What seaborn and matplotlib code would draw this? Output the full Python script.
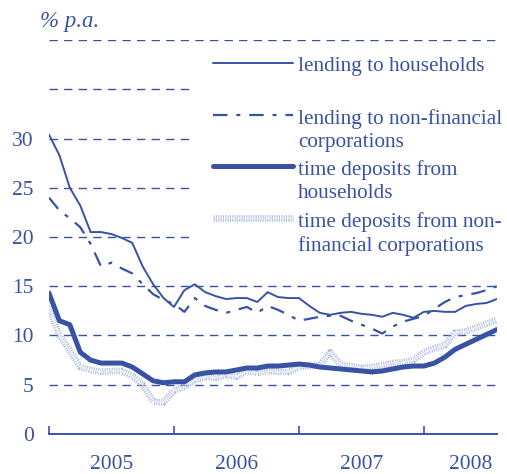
import numpy as np
import pandas as pd
import seaborn as sns
import matplotlib.pyplot as plt
import matplotlib.patheffects as pe
from matplotlib.lines import Line2D
from matplotlib.patches import Rectangle

# monthly interest rates, Jan 2005 - Aug 2008 (% p.a.)
months = pd.date_range("2005-01-01", periods=44, freq="MS")

lending_households = [30.4, 28.3, 25.0, 23.2, 20.5, 20.5, 20.3, 19.9, 19.4, 17.0,
                      15.2, 13.8, 12.9, 14.6, 15.2, 14.4, 14.0, 13.7, 13.8, 13.8,
                      13.4, 14.4, 13.9, 13.8, 13.8, 13.0, 12.3, 12.1, 12.3, 12.4,
                      12.2, 12.1, 11.9, 12.3, 12.1, 11.8, 12.4, 12.5, 12.4, 12.4,
                      13.0, 13.2, 13.3, 13.7]
lending_nfc = [24.0, 22.7, 21.9, 21.0, 19.3, 17.0, 17.4, 16.8, 16.3, 15.2,
               14.2, 13.6, 13.2, 12.4, 13.8, 13.0, 12.6, 12.3, 12.6, 12.9,
               12.3, 13.0, 12.6, 12.1, 11.5, 11.7, 11.9, 12.0, 12.0, 11.5,
               11.1, 10.7, 10.2, 10.9, 11.4, 11.7, 12.0, 12.7, 13.4, 13.9,
               14.1, 14.3, 14.6, 15.0]
deposits_households = [14.3, 11.5, 11.1, 8.3, 7.5, 7.2, 7.2, 7.2, 6.8, 6.1,
                       5.4, 5.2, 5.3, 5.3, 6.0, 6.2, 6.3, 6.3, 6.5, 6.7,
                       6.7, 6.9, 6.9, 7.0, 7.1, 7.0, 6.8, 6.7, 6.6, 6.5,
                       6.4, 6.3, 6.4, 6.6, 6.8, 6.9, 6.9, 7.2, 7.8, 8.6,
                       9.1, 9.6, 10.1, 10.6]
deposits_nfc = [12.9, 10.0, 8.5, 6.8, 6.5, 6.3, 6.4, 6.4, 5.9, 5.0,
                3.3, 3.2, 4.4, 4.8, 5.5, 5.8, 5.7, 6.0, 5.8, 6.4,
                6.2, 6.4, 6.3, 6.3, 6.8, 6.9, 7.0, 8.3, 7.0, 6.9,
                6.7, 6.8, 7.0, 7.2, 7.3, 7.5, 8.3, 8.7, 9.0, 10.3,
                10.4, 10.8, 11.2, 11.6]

labels = ["lending to households",
          "lending to non-financial\ncorporations",
          "time deposits from\nhouseholds",
          "time deposits from non-\nfinancial corporations"]
years = ["2005", "2006", "2007", "2008"]
yticks = [0, 5, 10, 15, 20, 25, 30]

blue = "#3953a4"
light_fx = [pe.Stroke(linewidth=4.8, foreground="#b4bfdf"), pe.Normal()]
styles = [dict(color=blue, lw=1.4, linestyle="-"),
          dict(color=blue, lw=1.6, linestyle=(0, (6.5, 4, 1.8, 4))),
          dict(color=blue, lw=3.6, linestyle="-", solid_capstyle="round"),
          dict(color="#e8ecf6", lw=1.4, linestyle=(0, (0.6, 0.6)), path_effects=light_fx)]

df = pd.DataFrame({"t": np.arange(len(months)),
                   "lh": lending_households, "ln": lending_nfc,
                   "dh": deposits_households, "dn": deposits_nfc})

sns.set_theme(style="white")
plt.rcParams["font.family"] = ["Liberation Serif", "DejaVu Serif"]

fig = plt.figure(figsize=(5.07, 4.74), dpi=100)
ax = fig.add_axes([0.0966, 0.0844, 0.8834, 0.8312])

for v in [5, 10, 15, 20, 25, 30, 35, 40]:
    ax.axhline(v, color=blue, lw=1.0, ls=(0, (6, 4.5)), zorder=1)

sns.lineplot(data=df, x="t", y="dn", ax=ax, zorder=3, **styles[3])
sns.lineplot(data=df, x="t", y="dh", ax=ax, zorder=4, **styles[2])
sns.lineplot(data=df, x="t", y="ln", ax=ax, zorder=4, **styles[1])
sns.lineplot(data=df, x="t", y="lh", ax=ax, zorder=5, **styles[0])

ax.set_xlim(0, len(months) - 1)
ax.set_ylim(0, 40)
ax.set_xlabel("")
ax.set_ylabel("")

# x axis: year boundaries as ticks, year names centred between them
ax.set_xticks([0, 12, 24, 36])
ax.set_xticklabels([])
ax.set_xticks([6, 18, 30, 40.5], minor=True)
ax.set_xticklabels(years, minor=True)
ax.tick_params(axis="x", which="major", direction="in", length=6, width=1.2,
               color=blue, bottom=True)
ax.tick_params(axis="x", which="minor", length=0, pad=15, labelsize=15.5,
               labelcolor=blue)

ax.set_yticks(yticks)
ax.set_yticklabels([str(v) for v in yticks])
ax.tick_params(axis="y", length=0, pad=11, labelsize=15.5, labelcolor=blue)

for s in ["top", "right", "left"]:
    ax.spines[s].set_visible(False)
ax.spines["bottom"].set_color(blue)
ax.spines["bottom"].set_linewidth(1.4)

fig.text(40 / 507, 1 - 21 / 474, "% p.a.", fontsize=16.5, style="italic",
         color=blue, va="center", ha="left")

# legend drawn by hand so the key sits on the first text line
def px(x, y):
    return x / 507, 1 - y / 474

x0, y0 = px(195, 46)
x1, y1 = px(507, 256)
fig.add_artist(Rectangle((x0, y1), x1 - x0, y0 - y1, transform=fig.transFigure,
                         facecolor="white", edgecolor="none", zorder=6))
key_y = [63, 115, 166, 218]
for lab, st, ky in zip(labels, styles, key_y):
    (ax0, ay), (bx, _) = px(213, ky), px(293, ky)
    fig.add_artist(Line2D([ax0, bx], [ay, ay], transform=fig.transFigure, zorder=7, **st))
    fig.text(px(298, 0)[0], ay + 0.0135, lab, fontsize=15.3, color=blue, va="top",
             ha="left", linespacing=1.33, zorder=8)

fig.savefig("out.png", dpi=100)
